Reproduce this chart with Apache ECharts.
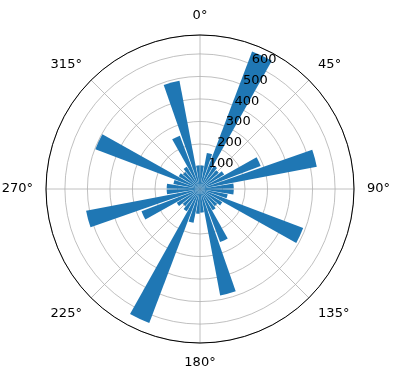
<!DOCTYPE html>
<html><head><meta charset="utf-8">
<script src="https://cdn.jsdelivr.net/npm/echarts@6/dist/echarts.min.js"></script>
<style>html,body{margin:0;padding:0;background:#fff}#c{width:396px;height:380px}</style>
</head><body><div id="c"></div><script>
// bin centres (degrees, clockwise from north)
const directions = [5,15,25,35,45,55,65,75,85,95,105,115,125,135,145,155,165,175,
                    185,195,205,215,225,235,245,255,265,275,285,295,305,315,325,335,345,355];
// bar lengths
const counts = [105,163,653,120,110,125,288,528,150,150,125,490,115,100,110,252,481,105,
                110,153,636,115,100,120,278,515,148,148,120,497,110,100,115,253,489,105];
const angleTicks = [0,45,90,135,180,225,270,315];
const radialTicks = [100,200,300,400,500,600];
const rMax = 684;

const chart = echarts.init(document.getElementById('c'), null, {renderer:'canvas'});
const font = 'DejaVu Sans';
const center = [200, 189], radius = 154;
chart.setOption({
  animation:false,
  polar:[{center:center, radius:radius},{center:center, radius:radius},{center:center, radius:radius}],
  angleAxis:[
    {polarIndex:0, type:'value', min:0, max:360, interval:45, startAngle:90, clockwise:true,
     axisLine:{show:true, lineStyle:{color:'#000', width:1}},
     axisTick:{show:false},
     axisLabel:{margin:13, align:'center', verticalAlign:'middle', color:'#000', fontSize:13, fontFamily:font,
       formatter:v => angleTicks.indexOf(v) >= 0 ? v + '°' : ''},
     splitLine:{show:true, lineStyle:{color:'#b0b0b0', width:0.8}}},
    {polarIndex:1, type:'category', data:directions.map(String), startAngle:90, clockwise:true, show:false},
    {polarIndex:2, type:'value', min:0, max:360, startAngle:67.5, clockwise:true, show:false}
  ],
  radiusAxis:[
    {polarIndex:0, type:'value', min:0, max:rMax, interval:100,
     axisLine:{show:false}, axisTick:{show:false}, axisLabel:{show:false},
     splitLine:{show:true, lineStyle:{color:'#b0b0b0', width:0.8}}},
    {polarIndex:1, type:'value', min:0, max:rMax, show:false},
    {polarIndex:2, type:'value', min:0, max:rMax, interval:100, z:10,
     axisLine:{show:false}, axisTick:{show:false}, splitLine:{show:false},
     axisLabel:{show:true, margin:0, align:'left', verticalAlign:'bottom', lineHeight:9, color:'#000',
       fontSize:13, fontFamily:font, showMinLabel:false, showMaxLabel:false,
       formatter:v => radialTicks.indexOf(v) >= 0 ? String(v) : ''}}
  ],
  series:[{type:'bar', coordinateSystem:'polar', polarIndex:1, data:counts,
    barCategoryGap:'15%', itemStyle:{color:'#1f77b4'}, z:3}]
});
</script></body></html>
